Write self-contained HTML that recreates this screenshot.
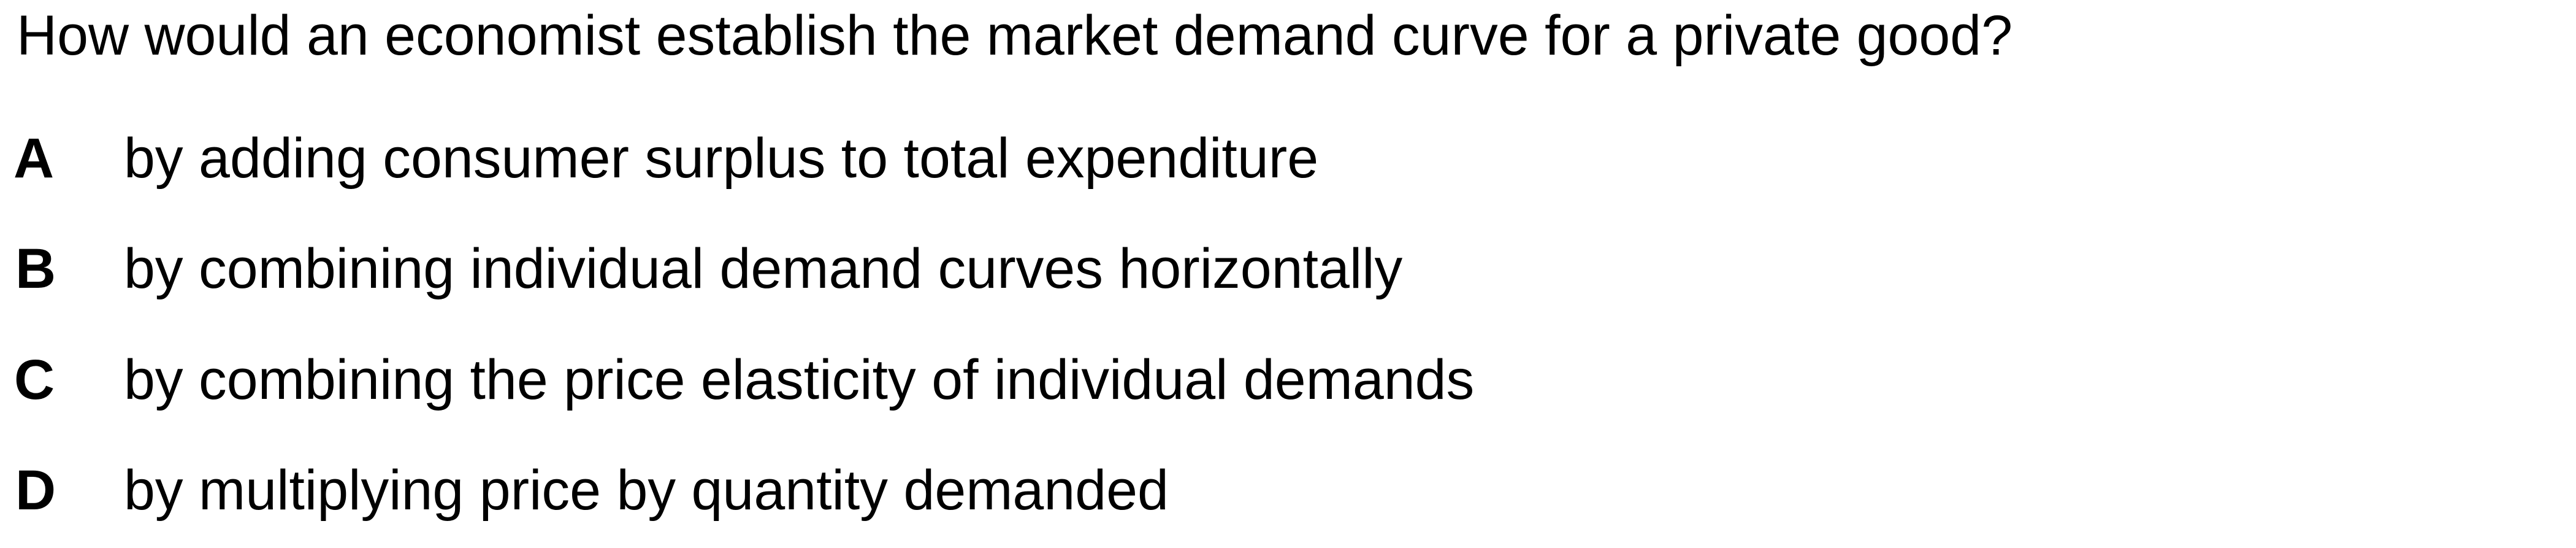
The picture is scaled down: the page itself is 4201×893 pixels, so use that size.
<!DOCTYPE html>
<html><head><meta charset="utf-8"><style>
html,body{margin:0;padding:0;background:#fff;}
svg{display:block;}
text{font-family:"Liberation Sans",Arial,sans-serif;fill:#000;font-size:91.5px;}
.l{font-weight:bold;}
</style></head><body>
<svg width="4201" height="893" viewBox="0 0 4201 893">
<text x="27" y="89">How would an economist establish the market demand curve for a private good?</text>
<g>
<text class="l" x="22" y="289">A</text>
<text x="202" y="289">by adding consumer surplus to total expenditure</text>
</g>
<g>
<text class="l" x="25" y="469">B</text>
<text x="202" y="469">by combining individual demand curves horizontally</text>
</g>
<g>
<text class="l" x="23" y="650">C</text>
<text x="202" y="650">by combining the price elasticity of individual demands</text>
</g>
<g>
<text class="l" x="25" y="830">D</text>
<text x="202" y="830">by multiplying price by quantity demanded</text>
</g>
</svg>
</body></html>
